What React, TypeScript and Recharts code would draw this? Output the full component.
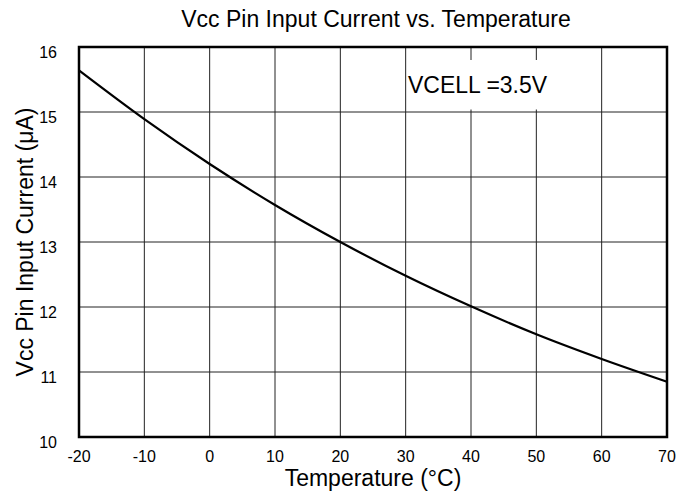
import React from 'react';
import { LineChart, Line, XAxis, YAxis, CartesianGrid, ReferenceArea } from 'recharts';

const temperatures = [-20, -10, 0, 10, 20, 30, 40, 50, 60, 70];
const currentUA = [15.64, 14.89, 14.2, 13.57, 13.0, 12.48, 12.01, 11.58, 11.2, 10.85];
const xTicks = [-20, -10, 0, 10, 20, 30, 40, 50, 60, 70];
const yTicks = [10, 11, 12, 13, 14, 15, 16];

const data = temperatures.map((t, i) => ({ t, i: currentUA[i] }));

const FONT = '"Liberation Sans", Arial, Helvetica, sans-serif';

const XTick = (props: any) => {
  const { x, y, payload } = props;
  return (
    <text x={x} y={y + 25} textAnchor="middle" fontSize={16} fontFamily={FONT} fill="#000">
      {payload.value}
    </text>
  );
};

const YTick = (props: any) => {
  const { x, y, payload } = props;
  return (
    <text x={x - 22} y={y + 11} textAnchor="end" fontSize={16} fontFamily={FONT} fill="#000">
      {payload.value}
    </text>
  );
};

export default function App() {
  return (
    <div style={{ position: 'absolute', left: 0, top: 0, width: 682, height: 496, background: '#fff' }}>
      <LineChart
        width={682}
        height={496}
        data={data}
        margin={{ top: 47, right: 15, left: 0, bottom: 0 }}
      >
        <CartesianGrid stroke="#222" strokeWidth={1} />
        <XAxis
          dataKey="t"
          type="number"
          domain={[-20, 70]}
          ticks={xTicks}
          height={59}
          axisLine={false}
          tickLine={false}
          tickSize={0}
          tickMargin={0}
          tick={<XTick />}
          interval={0}
          label={(p: any) => {
            const vb = p.viewBox;
            return (
              <text x={vb.x + vb.width / 2} y={486} textAnchor="middle" fontSize={23} fontFamily={FONT} fill="#000">
                Temperature (°C)
              </text>
            );
          }}
        />
        <YAxis
          type="number"
          domain={[10, 16]}
          ticks={yTicks}
          width={79}
          axisLine={false}
          tickLine={false}
          tickSize={0}
          tickMargin={0}
          tick={<YTick />}
          interval={0}
          label={(p: any) => {
            const vb = p.viewBox;
            const cx = 33;
            const cy = vb.y + vb.height / 2;
            return (
              <text
                x={cx}
                y={cy}
                transform={`rotate(-90 ${cx} ${cy})`}
                textAnchor="middle"
                fontSize={23}
                fontFamily={FONT}
                fill="#000"
              >
                Vcc Pin Input Current (μA)
              </text>
            );
          }}
        />
        <ReferenceArea
          x1={30.2}
          x2={52.6}
          y1={15.04}
          y2={15.8}
          fill="#fff"
          fillOpacity={1}
          stroke="none"
          label={(p: any) => {
            const vb = p.viewBox;
            return (
              <text x={vb.x + 1} y={vb.y + vb.height / 2 + 8.5} textAnchor="start" fontSize={23} fontFamily={FONT} fill="#000">
                VCELL =3.5V
              </text>
            );
          }}
        />
        <Line
          type="monotone"
          dataKey="i"
          stroke="#000"
          strokeWidth={2.2}
          dot={false}
          activeDot={false}
          isAnimationActive={false}
        />
        <ReferenceArea x1={-20} x2={70} y1={10} y2={16} fill="none" stroke="#000" strokeWidth={2.5} />
      </LineChart>
      <svg width={682} height={40} style={{ position: 'absolute', left: 0, top: 0 }}>
        <text x={376} y={27} textAnchor="middle" fontSize={23} fontFamily={FONT} fill="#000">
          Vcc Pin Input Current vs. Temperature
        </text>
      </svg>
    </div>
  );
}
